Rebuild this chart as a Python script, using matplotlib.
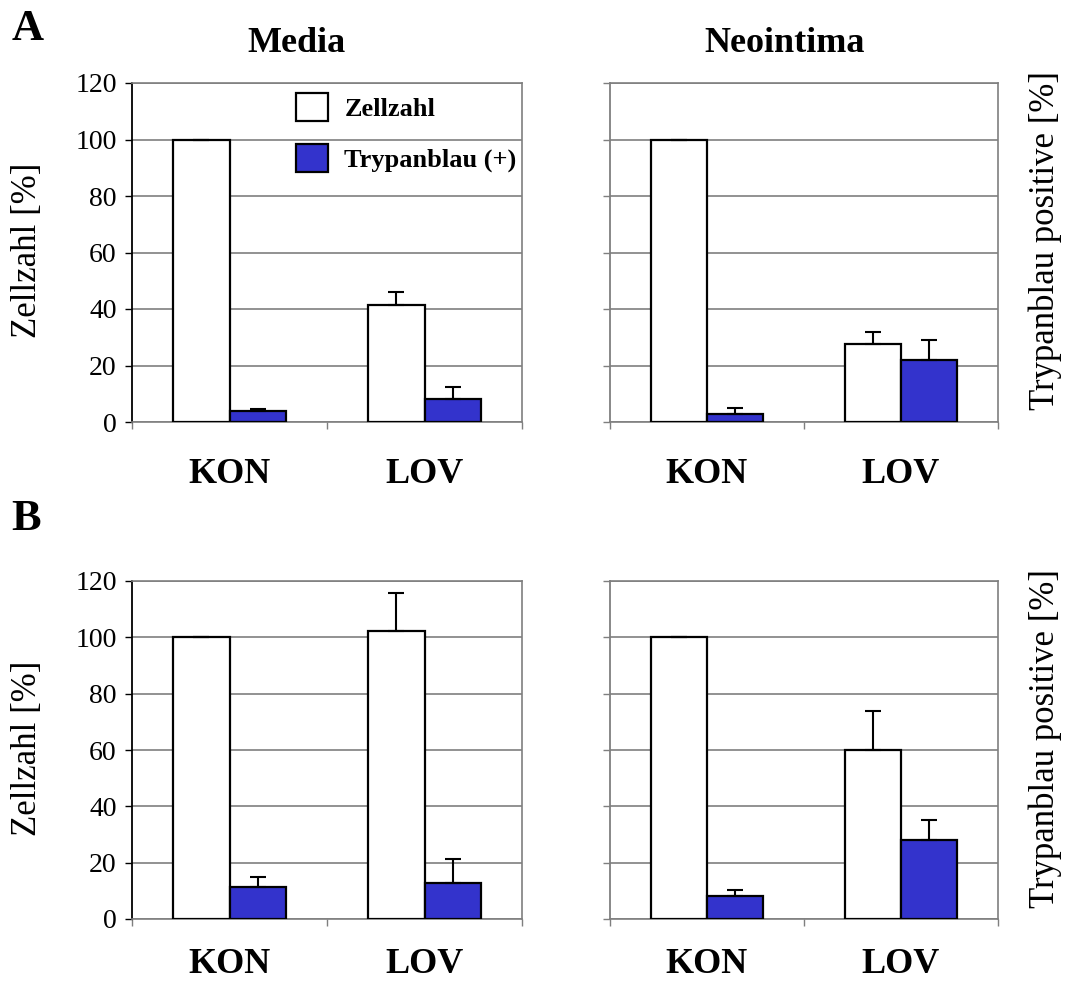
import matplotlib
matplotlib.use("Agg")
import matplotlib.pyplot as plt
from matplotlib.patches import Patch
import numpy as np

plt.rcParams['font.family'] = ['Liberation Serif', 'DejaVu Serif']

categories = ["KON", "LOV"]
series_names = ["Zellzahl", "Trypanblau (+)"]

# Panel A
a_media_zell = [100.0, 41.4]
a_media_zell_err = [0.0, 4.5]
a_media_tryp = [4.0, 8.3]
a_media_tryp_err = [0.7, 4.2]

a_neo_zell = [100.0, 27.7]
a_neo_zell_err = [0.0, 4.3]
a_neo_tryp = [3.0, 22.0]
a_neo_tryp_err = [1.9, 7.1]

# Panel B
b_media_zell = [100.0, 102.1]
b_media_zell_err = [0.0, 13.5]
b_media_tryp = [11.4, 12.9]
b_media_tryp_err = [3.6, 8.4]

b_neo_zell = [100.0, 59.9]
b_neo_zell_err = [0.0, 14.1]
b_neo_tryp = [8.2, 28.1]
b_neo_tryp_err = [2.1, 7.1]

yticks = [0, 20, 40, 60, 80, 100, 120]
col_titles = ["Media", "Neointima"]
ylabel_left = "Zellzahl [%]"
ylabel_right = "Trypanblau positive [%]"

W, H = 1076, 984
fig = plt.figure(figsize=(W / 100, H / 100), dpi=100)

BLUE = "#3333CC"
GRID = "#7f7f7f"

def fx(px):
    return px / W

def fy(py):
    return 1 - py / H

def make_ax(left, top, right, bottom):
    return fig.add_axes([fx(left), fy(bottom), fx(right - left), (bottom - top) / H])

def draw(ax, zell, zell_err, tryp, tryp_err, show_ylabels, left_spine_color, xpad):
    x = np.arange(len(categories))
    bw = 0.29
    ax.bar(x - bw / 2, zell, bw, color="white", edgecolor="black", linewidth=1.6, zorder=3)
    ax.bar(x + bw / 2, tryp, bw, color=BLUE, edgecolor="black", linewidth=1.6, zorder=3)
    ax.errorbar(x - bw / 2, zell, yerr=[np.zeros(len(zell)), zell_err], fmt="none",
                ecolor="black", elinewidth=1.5, capsize=5.5, capthick=1.5, zorder=4)
    ax.errorbar(x + bw / 2, tryp, yerr=[np.zeros(len(tryp)), tryp_err], fmt="none",
                ecolor="black", elinewidth=1.5, capsize=5.5, capthick=1.5, zorder=4)
    ax.set_xlim(-0.5, len(categories) - 0.5)
    ax.set_ylim(0, 120)
    ax.set_yticks(yticks)
    ax.yaxis.grid(True, color=GRID, linewidth=1.2, zorder=0)
    ax.set_axisbelow(True)
    ax.set_xticks(np.arange(len(categories) + 1) - 0.5)
    ax.set_xticklabels([])
    ax.set_xticks(x, minor=True)
    ax.set_xticklabels(categories, minor=True, fontsize=26, fontweight="bold")
    ax.tick_params(axis="x", which="minor", length=0, pad=xpad)
    ax.tick_params(axis="x", which="major", length=5, width=1, color=GRID, direction="out")
    ax.tick_params(axis="y", length=5, width=1, direction="out", labelsize=20, pad=6,
                   color=left_spine_color)
    if not show_ylabels:
        ax.set_yticklabels([])
    for s in ["top", "right", "bottom"]:
        ax.spines[s].set_color(GRID)
        ax.spines[s].set_linewidth(1.2)
    ax.spines["left"].set_color(left_spine_color)
    ax.spines["left"].set_linewidth(1.3)

ax1 = make_ax(132, 83, 522, 422)
ax2 = make_ax(610, 83, 998, 422)
ax3 = make_ax(132, 581, 522, 919)
ax4 = make_ax(610, 581, 998, 919)

draw(ax1, a_media_zell, a_media_zell_err, a_media_tryp, a_media_tryp_err, True, "black", 26)
draw(ax2, a_neo_zell, a_neo_zell_err, a_neo_tryp, a_neo_tryp_err, False, GRID, 26)
draw(ax3, b_media_zell, b_media_zell_err, b_media_tryp, b_media_tryp_err, True, "black", 21)
draw(ax4, b_neo_zell, b_neo_zell_err, b_neo_tryp, b_neo_tryp_err, False, GRID, 21)

# Legend
handles = [Patch(facecolor="white", edgecolor="black", linewidth=1.6),
           Patch(facecolor=BLUE, edgecolor="black", linewidth=1.6)]
fig.legend(handles, series_names, loc="upper left",
           bbox_to_anchor=(fx(296), fy(93)), bbox_transform=fig.transFigure,
           frameon=False, borderpad=0, borderaxespad=0,
           prop={"size": 19, "weight": "bold"},
           handlelength=1.23, handleheight=1.27, handletextpad=0.6, labelspacing=0.85)

# Titles and panel letters
fig.text(fx(297), fy(52), col_titles[0], fontsize=26, fontweight="bold", ha="center", va="baseline")
fig.text(fx(785), fy(52), col_titles[1], fontsize=26, fontweight="bold", ha="center", va="baseline")
fig.text(fx(12), fy(40), "A", fontsize=32, fontweight="bold", ha="left", va="baseline")
fig.text(fx(11), fy(530), "B", fontsize=32, fontweight="bold", ha="left", va="baseline")

# Y labels
for yc in (250, 748):
    fig.text(fx(28), fy(yc), ylabel_left, fontsize=25, rotation=90, ha="center", va="center")
for yc in (240, 738):
    fig.text(fx(1045), fy(yc), ylabel_right, fontsize=25, rotation=90, ha="center", va="center")

fig.savefig("out.png", dpi=100, facecolor="white")
